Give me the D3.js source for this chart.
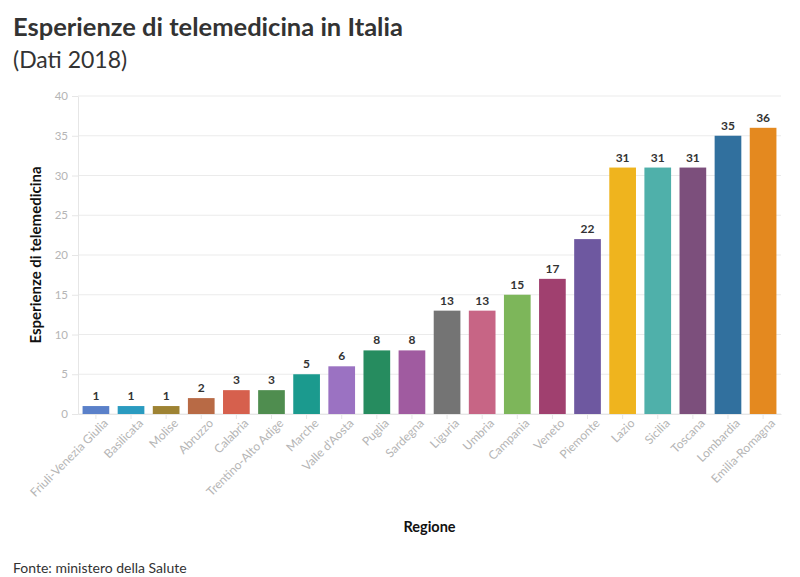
<!DOCTYPE html>
<html>
<head>
<meta charset="utf-8">
<script src="https://cdn.jsdelivr.net/npm/d3@7"></script>
<style>
  body { margin: 0; background: #fff; }
  svg text { font-family: Lato, "Open Sans", sans-serif; }
</style>
</head>
<body>
<script>
// regions, sorted by number of experiences
var regioni = ["Friuli-Venezia Giulia", "Basilicata", "Molise", "Abruzzo", "Calabria",
  "Trentino-Alto Adige", "Marche", "Valle d'Aosta", "Puglia", "Sardegna", "Liguria",
  "Umbria", "Campania", "Veneto", "Piemonte", "Lazio", "Sicilia", "Toscana",
  "Lombardia", "Emilia-Romagna"];
var esperienze = [1, 1, 1, 2, 3, 3, 5, 6, 8, 8, 13, 13, 15, 17, 22, 31, 31, 31, 35, 36];
var colori = ["#5a80c9", "#2a9bc0", "#9e8333", "#b86a45", "#d6604d", "#4f8d4f",
  "#1b9a8e", "#9b72c2", "#268c5f", "#a05ba0", "#747474", "#c76585", "#7db65a",
  "#a0406f", "#6e58a0", "#efb41e", "#4fb0aa", "#7c4f7c", "#31709e", "#e4891f"];
var yTicks = [0, 5, 10, 15, 20, 25, 30, 35, 40];

var W = 800, H = 577;
var margin = {top: 96, right: 19, bottom: 163, left: 78};
var w = W - margin.left - margin.right;
var h = H - margin.top - margin.bottom;

var svg = d3.select("body").append("svg")
  .attr("width", W)
  .attr("height", H);

svg.append("text")
  .attr("x", 13).attr("y", 36)
  .attr("font-size", "25.5px").attr("font-weight", "bold")
  .attr("fill", "#333")
  .text("Esperienze di telemedicina in Italia");

svg.append("text")
  .attr("x", 13).attr("y", 68)
  .attr("font-size", "23px")
  .attr("fill", "#333")
  .text("(Dati 2018)");

svg.append("text")
  .attr("x", 13).attr("y", 573)
  .attr("font-size", "14px")
  .attr("fill", "#333")
  .text("Fonte: ministero della Salute");

var g = svg.append("g")
  .attr("transform", "translate(" + margin.left + "," + margin.top + ")");

var x = d3.scaleBand()
  .domain(regioni)
  .range([0, w])
  .paddingInner(0.24)
  .paddingOuter(0.13);

var y = d3.scaleLinear().domain([0, 40]).range([h, 0]);

// gridlines
g.append("g")
  .selectAll("line").data(yTicks).enter()
  .append("line")
  .attr("x1", 0).attr("x2", w)
  .attr("y1", function(d) { return y(d); })
  .attr("y2", function(d) { return y(d); })
  .attr("stroke", "#ebebeb");

var leftAxis = d3.axisLeft(y)
  .tickValues(yTicks)
  .tickSizeInner(6)
  .tickSizeOuter(0)
  .tickPadding(4);

var ya = g.append("g").call(leftAxis);
ya.select(".domain").attr("stroke", "#e6e6e6");
ya.selectAll("line").attr("stroke", "#e6e6e6");
ya.selectAll("text")
  .attr("font-size", "11.5px")
  .attr("fill", "#b5b5b5");

var bottomAxis = d3.axisBottom(x)
  .tickSizeInner(5)
  .tickSizeOuter(0);

var xa = g.append("g")
  .attr("transform", "translate(0," + h + ")")
  .call(bottomAxis);
xa.select(".domain").attr("stroke", "#e6e6e6");
xa.selectAll("line").attr("stroke", "#e6e6e6");
xa.selectAll("text")
  .attr("font-size", "12px")
  .attr("fill", "#b5b5b5")
  .attr("text-anchor", "end")
  .attr("x", 2)
  .attr("y", 12)
  .attr("dy", "0.35em")
  .attr("transform", "rotate(-45)");

g.selectAll(".bar").data(regioni).enter()
  .append("rect")
  .attr("class", "bar")
  .attr("x", function(d) { return x(d); })
  .attr("y", function(d, i) { return y(esperienze[i]); })
  .attr("width", x.bandwidth())
  .attr("height", function(d, i) { return h - y(esperienze[i]); })
  .attr("fill", function(d, i) { return colori[i]; });

g.selectAll(".val").data(regioni).enter()
  .append("text")
  .attr("class", "val")
  .attr("x", function(d) { return x(d) + x.bandwidth() / 2; })
  .attr("y", function(d, i) { return y(esperienze[i]) - 6; })
  .attr("text-anchor", "middle")
  .attr("font-size", "12px")
  .attr("font-weight", "bold")
  .attr("fill", "#333")
  .text(function(d, i) { return esperienze[i]; });

g.append("text")
  .attr("x", w / 2)
  .attr("y", h + 118)
  .attr("text-anchor", "middle")
  .attr("font-size", "14.5px")
  .attr("font-weight", "bold")
  .attr("fill", "#111")
  .text("Regione");

g.append("text")
  .attr("transform", "rotate(-90)")
  .attr("x", -h / 2)
  .attr("y", -37)
  .attr("text-anchor", "middle")
  .attr("font-size", "15px")
  .attr("font-weight", "bold")
  .attr("fill", "#111")
  .text("Esperienze di telemedicina");
</script>
</body>
</html>
